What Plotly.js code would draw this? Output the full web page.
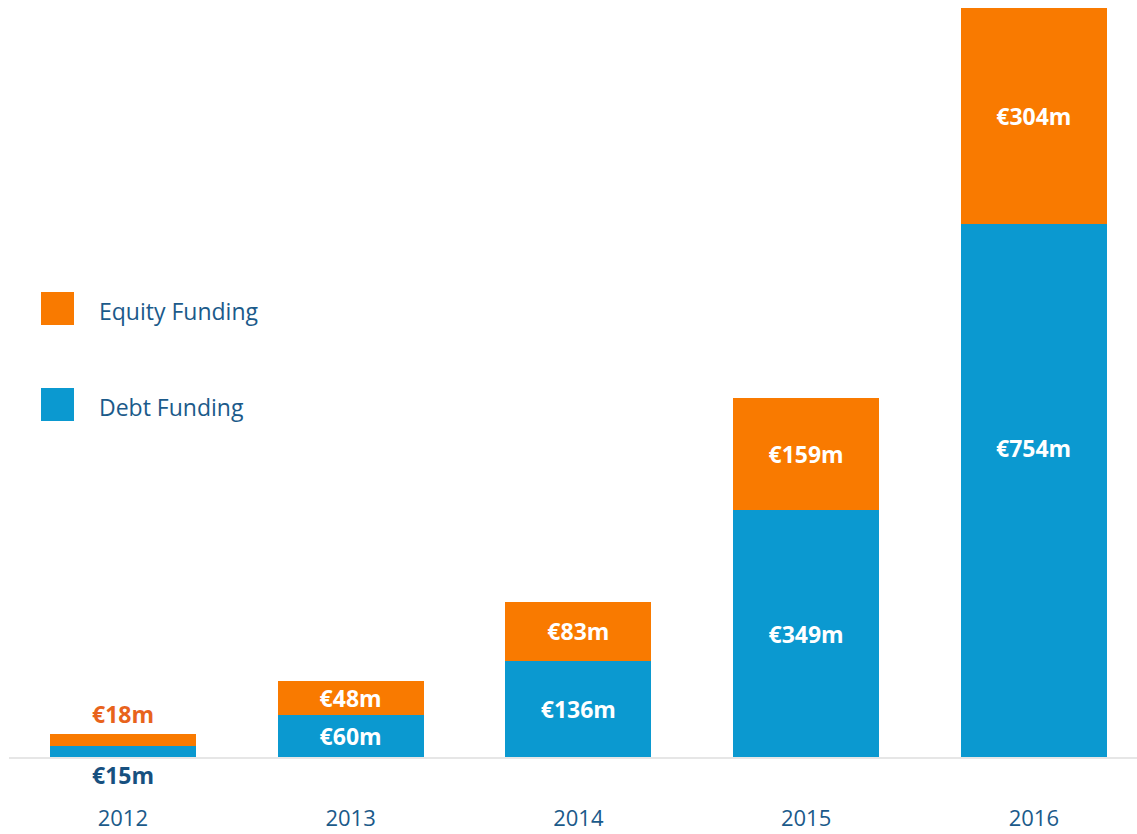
<!DOCTYPE html>
<html>
<head>
<meta charset="utf-8">
<script src="https://cdn.plot.ly/plotly-3.0.1.min.js"></script>
<style>html,body{margin:0;padding:0;background:#fff;}#chart{width:1137px;height:834px;}</style>
</head>
<body>
<div id="chart"></div>
<script>
const years = ['2012', '2013', '2014', '2015', '2016'];
const debtFunding = [15, 60, 136, 349, 754];
const equityFunding = [18, 48, 83, 159, 304];
const seriesNames = ['Equity Funding', 'Debt Funding'];

const ORANGE = '#f97a00';
const BLUE = '#0b99d0';
const NAVY = '#1b5a8a';
const FONT = '"Open Sans", "Noto Sans", sans-serif';

const fmt = v => '€' + v + 'm';
const last = years.length - 1;
// first (small) year is labelled outside the bars; the last debt label sits high in its bar
const debtText = debtFunding.map((v, i) => (i === 0 || i === last) ? '' : fmt(v));
const equityText = equityFunding.map((v, i) => i === 0 ? '' : fmt(v));

const labelFont = {family: FONT, size: 23, color: '#ffffff', weight: 700};

const traces = [
  {
    type: 'bar', name: seriesNames[1], x: years, y: debtFunding,
    marker: {color: BLUE}, text: debtText, textposition: 'inside',
    insidetextanchor: 'middle', textfont: labelFont, hoverinfo: 'none',
    textangle: 0, constraintext: 'none'
  },
  {
    type: 'bar', name: seriesNames[0], x: years, y: equityFunding,
    marker: {color: ORANGE}, text: equityText, textposition: 'inside',
    insidetextanchor: 'middle', textfont: labelFont, hoverinfo: 'none',
    textangle: 0, constraintext: 'none'
  }
];

const annotations = [
  {x: 0, y: debtFunding[0] + equityFunding[0], xref: 'x', yref: 'y',
   text: '<b>' + fmt(equityFunding[0]) + '</b>', showarrow: false, yanchor: 'bottom', yshift: 2,
   font: {family: FONT, size: 23, color: '#e8631c'}},
  {x: 0, y: 0, xref: 'x', yref: 'y',
   text: '<b>' + fmt(debtFunding[0]) + '</b>', showarrow: false, yanchor: 'top', yshift: 0,
   font: {family: FONT, size: 23, color: '#17507f'}},
  {x: last, y: debtFunding[last] * 0.58, xref: 'x', yref: 'y',
   text: '<b>' + fmt(debtFunding[last]) + '</b>', showarrow: false, yanchor: 'middle',
   font: {family: FONT, size: 23, color: '#ffffff'}},
  // legend texts
  {x: 97, y: 311, xref: 'paper', yref: 'paper', text: seriesNames[0], showarrow: false,
   xanchor: 'left', yanchor: 'middle', font: {family: FONT, size: 23, color: NAVY}},
  {x: 97, y: 407, xref: 'paper', yref: 'paper', text: seriesNames[1], showarrow: false,
   xanchor: 'left', yanchor: 'middle', font: {family: FONT, size: 23, color: NAVY}}
];

// convert legend pixel positions to paper coordinates
const W = 1137, H = 834, ML = 9, MR = 0, MT = 0, MB = 77;
const pw = W - ML - MR, ph = H - MT - MB;
const px = x => (x - ML) / pw;
const py = y => 1 - (y - MT) / ph;
annotations.slice(3).forEach(a => { a.x = px(a.x); a.y = py(a.y); });

const shapes = [
  {type: 'rect', xref: 'paper', yref: 'paper', x0: px(41), x1: px(74), y0: py(325), y1: py(292),
   fillcolor: ORANGE, line: {width: 0}},
  {type: 'rect', xref: 'paper', yref: 'paper', x0: px(41), x1: px(74), y0: py(421), y1: py(388),
   fillcolor: BLUE, line: {width: 0}}
];

const layout = {
  width: W, height: H,
  margin: {l: ML, r: MR, t: MT, b: MB, pad: 0},
  barmode: 'stack', bargap: 0.359,
  showlegend: false,
  paper_bgcolor: '#ffffff', plot_bgcolor: '#ffffff',
  xaxis: {
    type: 'category', range: [-0.5, 4.453], fixedrange: true,
    showline: true, linecolor: '#e6e6e6', linewidth: 2,
    ticks: '', ticklabelstandoff: 41,
    tickfont: {family: FONT, size: 22, color: NAVY},
    showgrid: false, zeroline: false
  },
  yaxis: {
    range: [0, 1070], visible: false, showgrid: false, zeroline: false, fixedrange: true
  },
  annotations: annotations,
  shapes: shapes
};

Plotly.newPlot('chart', traces, layout, {displayModeBar: false, staticPlot: true});
</script>
</body>
</html>
